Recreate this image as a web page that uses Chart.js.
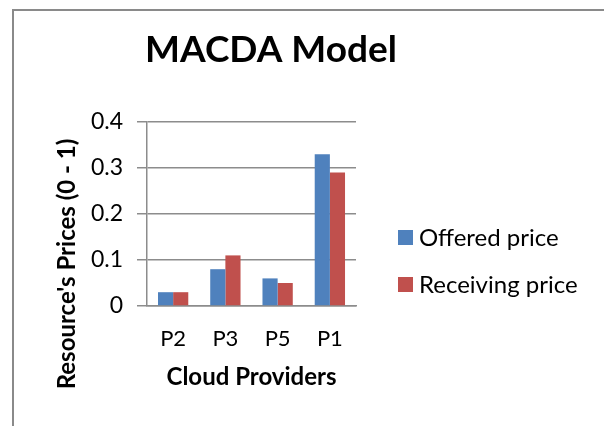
<!DOCTYPE html>
<html>
<head>
<meta charset="utf-8">
<script src="https://cdn.jsdelivr.net/npm/chart.js@4"></script>
<style>
  html, body { margin: 0; padding: 0; background: #ffffff; }
  #wrap { width: 604px; height: 426px; position: relative; }
</style>
</head>
<body>
<div id="wrap"><canvas id="c" width="604" height="426"></canvas></div>
<script>
const chartTitle = "MACDA Model";
const yAxisTitle = "Resource's Prices (0 - 1)";
const xAxisTitle = "Cloud Providers";
const categories = ["P2", "P3", "P5", "P1"];
const offeredPrice = [0.03, 0.08, 0.06, 0.33];
const receivingPrice = [0.03, 0.11, 0.05, 0.29];
const seriesNames = ["Offered price", "Receiving price"];
const yTicks = [0, 0.1, 0.2, 0.3, 0.4];

const FONT = "Lato, 'Open Sans', 'DejaVu Sans', sans-serif";
const GRID = "#8c8c8c";

const decorPlugin = {
  id: 'decor',
  beforeDraw(chart) {
    const ctx = chart.ctx;
    ctx.save();
    ctx.fillStyle = '#ffffff';
    ctx.fillRect(0, 0, chart.width, chart.height);
    ctx.strokeStyle = '#8a8a8a';
    ctx.lineWidth = 2;
    ctx.beginPath();
    ctx.moveTo(13, chart.height);
    ctx.lineTo(13, 10);
    ctx.lineTo(chart.width, 10);
    ctx.stroke();
    ctx.restore();
  },
  afterDraw(chart) {
    const ctx = chart.ctx;
    ctx.save();
    // title
    ctx.fillStyle = '#000000';
    ctx.font = "bold 37px " + FONT;
    ctx.textAlign = 'center';
    ctx.textBaseline = 'alphabetic';
    ctx.fillText(chartTitle, 271, 62);
    // y axis title
    ctx.save();
    ctx.translate(75, 264);
    ctx.rotate(-Math.PI / 2);
    ctx.font = "bold 24px " + FONT;
    ctx.textAlign = 'center';
    ctx.fillText(yAxisTitle, 0, 0);
    ctx.restore();
    // legend
    ctx.font = "24px " + FONT;
    ctx.textAlign = 'left';
    chart.data.datasets.forEach((ds, i) => {
      const yb = 246 + i * 47;
      ctx.fillStyle = ds.backgroundColor;
      ctx.fillRect(398, yb - 16, 15, 15);
      ctx.fillStyle = '#000000';
      ctx.fillText(ds.label, 419, yb);
    });
    ctx.restore();
  }
};

new Chart(document.getElementById('c'), {
  type: 'bar',
  data: {
    labels: categories,
    datasets: [
      { label: seriesNames[0], data: offeredPrice, backgroundColor: '#4F81BD', borderWidth: 0 },
      { label: seriesNames[1], data: receivingPrice, backgroundColor: '#C0504D', borderWidth: 0 }
    ]
  },
  options: {
    responsive: false,
    animation: false,
    devicePixelRatio: 1,
    layout: { padding: { top: 122, right: 248, bottom: 0, left: 0 } },
    plugins: {
      legend: { display: false },
      title: { display: false },
      tooltip: { enabled: false }
    },
    datasets: { bar: { categoryPercentage: 0.58, barPercentage: 1 } },
    scales: {
      x: {
        grid: { display: false },
        border: { display: true, color: GRID, width: 1.5 },
        ticks: { color: '#000000', font: { family: FONT, size: 22 }, padding: 12, maxRotation: 0 },
        title: { display: true, text: xAxisTitle, color: '#000000', font: { family: FONT, size: 24, weight: 'bold' }, padding: { top: 0, bottom: 34 } },
        afterFit(scale) { scale.height = 120; }
      },
      y: {
        min: 0,
        max: 0.4,
        afterBuildTicks(scale) { scale.ticks = yTicks.map(v => ({ value: v })); },
        grid: { color: GRID, lineWidth: 1.5, tickLength: 10, drawTicks: true },
        border: { display: true, color: GRID, width: 1.5 },
        ticks: { color: '#000000', font: { family: FONT, size: 23 }, padding: 14 },
        afterFit(scale) { scale.width = 147; }
      }
    }
  },
  plugins: [decorPlugin]
});
</script>
</body>
</html>
